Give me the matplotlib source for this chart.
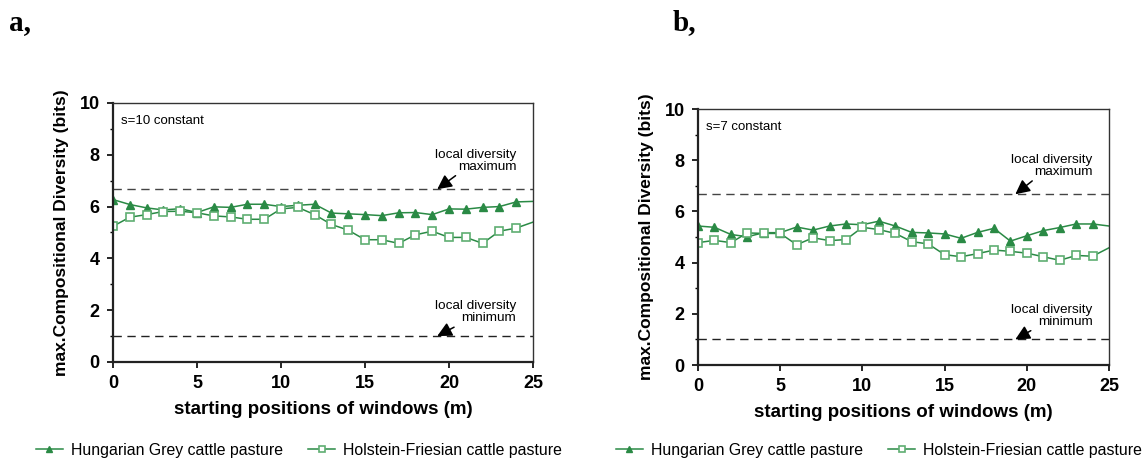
import matplotlib
matplotlib.use("Agg")
import matplotlib.pyplot as plt
import numpy as np

plt.rcParams['font.family'] = ['Liberation Sans', 'DejaVu Sans']

positions = list(range(0, 26))

grey_a = [6.27, 6.08, 5.95, 5.87, 5.92, 5.77, 5.99, 5.97, 6.09, 6.09, 6.00, 6.05, 6.09,
          5.75, 5.72, 5.69, 5.65, 5.76, 5.77, 5.69, 5.91, 5.90, 5.97, 6.00, 6.18, 6.20]
holst_a = [5.24, 5.59, 5.69, 5.81, 5.82, 5.76, 5.64, 5.60, 5.51, 5.51, 5.91, 5.97, 5.69,
           5.31, 5.09, 4.72, 4.72, 4.58, 4.91, 5.05, 4.81, 4.81, 4.58, 5.05, 5.17, 5.40]
grey_b = [5.43, 5.38, 5.10, 5.01, 5.17, 5.17, 5.39, 5.27, 5.43, 5.51, 5.48, 5.62, 5.43,
          5.18, 5.16, 5.12, 4.95, 5.18, 5.34, 4.84, 5.05, 5.25, 5.37, 5.51, 5.51, 5.43]
holst_b = [4.78, 4.87, 4.78, 5.16, 5.14, 5.14, 4.70, 4.97, 4.86, 4.90, 5.38, 5.29, 5.14,
           4.82, 4.73, 4.31, 4.23, 4.35, 4.49, 4.44, 4.37, 4.23, 4.09, 4.28, 4.25, 4.58]

local_max = 6.67
local_min = 1.0
panel_labels = ["a,", "b,"]
constants = ["s=10 constant", "s=7 constant"]
series_names = ["Hungarian Grey cattle pasture", "Holstein-Friesian cattle pasture"]
xticks = [0, 5, 10, 15, 20, 25]
yticks = [0, 2, 4, 6, 8, 10]

green = '#2a8a45'
green_light = '#5fae72'

fig = plt.figure(figsize=(11.45, 4.61), dpi=100)
axes_rects = [[0.0987, 0.2148, 0.3668, 0.5618], [0.6096, 0.2082, 0.3590, 0.5553]]
data = [(grey_a, holst_a), (grey_b, holst_b)]
label_pos = [(0.008, 1 - 30 / 461), (0.587, 1 - 30 / 461)]
legend_anchor = [(36 / 1145, 3 / 461), (616 / 1145, 3 / 461)]

for i in range(2):
    ax = fig.add_axes(axes_rects[i])
    g, h = data[i]
    l1, = ax.plot(positions, g, color=green, lw=1.1, marker='^', ms=6,
                  mfc=green, mec=green, markevery=list(range(25)))
    l2, = ax.plot(positions, h, color=green, lw=1.1, marker='s', ms=6,
                  mfc='white', mec=green_light, mew=1.2, markevery=list(range(25)))
    ax.axhline(local_max, color='#444444', lw=1.0, ls=(0, (6, 4)), zorder=1)
    ax.axhline(local_min, color='#222222', lw=1.0, ls=(0, (6, 4)), zorder=1)
    ax.set_xlim(0, 25)
    ax.set_ylim(0, 10)
    ax.set_xticks(xticks)
    ax.set_yticks(yticks)
    ax.set_yticks([1, 3, 5, 7, 9], minor=True)
    ax.tick_params(axis='both', which='major', direction='out', length=4.5, width=1.2,
                   labelsize=13)
    ax.tick_params(axis='x', pad=5)
    ax.tick_params(axis='y', pad=5)
    ax.tick_params(axis='y', which='minor', direction='out', length=2.5, width=1.0)
    for lab in ax.get_xticklabels() + ax.get_yticklabels():
        lab.set_fontweight('bold')
    for s in ['left', 'bottom']:
        ax.spines[s].set_linewidth(1.6)
        ax.spines[s].set_color('#222222')
    for s in ['top', 'right']:
        ax.spines[s].set_linewidth(1.0)
        ax.spines[s].set_color('#333333')
    ax.set_xlabel("starting positions of windows (m)", fontsize=13.5, fontweight='bold',
                  labelpad=6)
    ax.set_ylabel("max.Compositional Diversity (bits)", fontsize=12.5, fontweight='bold',
                  labelpad=8)
    ax.text(0.02, 0.955, constants[i], transform=ax.transAxes, fontsize=9.5,
            ha='left', va='top')
    arrow = dict(arrowstyle='-|>,head_length=0.9,head_width=0.45',
                 color='black', lw=1.1, shrinkA=0, shrinkB=0, relpos=(0.3, 0.0))
    ax.annotate("local diversity\nmaximum", xy=(19.3, local_max), xytext=(24.0, 7.3),
                ha='right', va='bottom', fontsize=9.7, linespacing=1.0,
                arrowprops=arrow)
    ax.annotate("local diversity\nminimum", xy=(19.3, local_min), xytext=(24.0, 1.45),
                ha='right', va='bottom', fontsize=9.7, linespacing=1.0,
                arrowprops=arrow)
    fig.text(label_pos[i][0], label_pos[i][1], panel_labels[i],
             family=['Liberation Serif', 'DejaVu Serif'], fontweight='bold', fontsize=21)
    fig.legend([l1, l2], series_names, loc='lower left', bbox_to_anchor=legend_anchor[i],
               ncol=2, frameon=False, fontsize=11.4, handlelength=1.7, handletextpad=0.5,
               columnspacing=1.6, markerscale=0.7, borderpad=0, borderaxespad=0)

fig.savefig("out.png", dpi=100)
